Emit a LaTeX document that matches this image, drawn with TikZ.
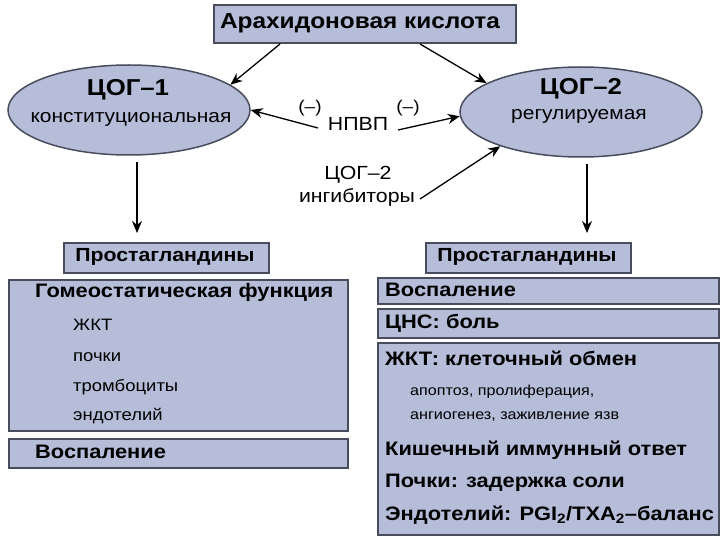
\documentclass[tikz,border=0pt]{standalone}
\usepackage{fontspec}
\setmainfont{Liberation Sans}[FakeStretch=1.12]
\usetikzlibrary{shapes.geometric,arrows.meta,calc}
\definecolor{boxfill}{RGB}{181,189,217}
\definecolor{boxline}{RGB}{72,76,92}
\tikzset{
  panel/.style={draw=boxline, line width=1.8pt, fill=boxfill, inner sep=0pt, anchor=north west},
  oval/.style={ellipse, draw=boxline, line width=1.5pt, fill=boxfill, inner sep=0pt, minimum width=242pt, minimum height=90pt},
  arr/.style={line width=1.3pt, -{Stealth[length=12pt,width=10pt]}},
  big/.style={font=\fontsize{19.5}{21}\selectfont\bfseries, anchor=west, inner sep=0pt},
  small/.style={font=\fontsize{16.5}{18}\selectfont, anchor=west, inner sep=0pt},
  rsmall/.style={font=\fontsize{14.4}{16}\selectfont, anchor=west, inner sep=0pt},
  mid/.style={font=\fontsize{19}{21}\selectfont, inner sep=0pt},
  head/.style={font=\fontsize{23}{25}\selectfont\bfseries, inner sep=0pt},
  sub/.style={font=\fontsize{18.7}{21}\selectfont, inner sep=0pt},
  minus/.style={font=\fontsize{17}{19}\selectfont, inner sep=0pt},
  pgt/.style={font=\fontsize{19}{21}\selectfont\bfseries, inner sep=0pt},
}
\begin{document}
\begin{tikzpicture}[x=1pt,y=-1pt]
\useasboundingbox (0,0) rectangle (720,540);
\fill[white] (0,0) rectangle (720,540);
% top
\node[panel, minimum width=302pt, minimum height=38pt] (top) at (213,4) {};
\node[font=\fontsize{21.8}{23}\selectfont\bfseries, inner sep=0pt] (toptxt) at (360,23) {Арахидоновая кислота};
% ellipses
\node[oval] (cog1) at (129,110) {};
\node[head] (c1a) at (128,90) {ЦОГ–1};
\node[sub] (c1b) at (131,119) {конституциональная};
\node[oval] (cog2) at (581,112) {};
\node[head] (c2a) at (581,89) {ЦОГ–2};
\node[sub] (c2b) at (579,116) {регулируемая};
% middle labels
\node[mid] (nsaid) at (358,124) {НПВП};
\node[minus] (m1) at (310,108) {(–)};
\node[minus] (m2) at (408,108) {(–)};
\node[mid] (inh1) at (358,175) {ЦОГ–2};
\node[mid] (inh2) at (357,198) {ингибиторы};
% connectors
\coordinate (t1) at (280,44);
\coordinate (t2) at (420,44);
\coordinate (n1) at (318,128);
\coordinate (n2) at (398,130);
\coordinate (i1) at (420,199);
\draw[arr] (t1) -- (cog1.14);
\draw[arr] (t2) -- (cog2.163);
\draw[arr] (n1) -- (cog1.0);
\draw[arr] (n2) -- (cog2.182);
\draw[arr] (i1) -- (cog2.203);
% prostaglandins
\node[panel, minimum width=205pt, minimum height=30pt] (pg1) at (63,242) {};
\node[pgt] (pg1t) at (165,257) {Простагландины};
\node[panel, minimum width=205pt, minimum height=30pt] (pg2) at (425,242) {};
\node[pgt] (pg2t) at (527,257) {Простагландины};
\coordinate (d1) at ($(cog1.south)+(8,6)$);
\coordinate (d2) at ($(cog2.south)+(6,6)$);
\draw[arr] (d1) -- (d1 |- pg1.north) [shorten >=9pt];
\draw[arr] (d2) -- (d2 |- pg2.north) [shorten >=9pt];
% left column
\node[panel, minimum width=339pt, minimum height=151pt] (lh) at (8,279) {};
\node[big] (l1) at (35,292) {Гомеостатическая функция};
\node[small] (l2) at (73,325) {ЖКТ};
\node[small] (l3) at (73,357) {почки};
\node[small] (l4) at (73,387) {тромбоциты};
\node[small] (l5) at (73,416) {эндотелий};
\node[panel, minimum width=339pt, minimum height=29pt] (li) at (8,438) {};
\node[big] (l6) at (35,452) {Воспаление};
% right column
\node[panel, minimum width=341pt, minimum height=26pt] (r1b) at (377,277) {};
\node[big] (r1) at (385,290) {Воспаление};
\node[panel, minimum width=341pt, minimum height=29pt] (r2b) at (377,308) {};
\node[big] (r2) at (385,323) {ЦНС: боль};
\node[panel, minimum width=341pt, minimum height=192pt] (r3b) at (377,342) {};
\node[big] (r3) at (385,358) {ЖКТ: клеточный обмен};
\node[rsmall] (r4) at (410,392) {апоптоз, пролиферация,};
\node[rsmall] (r5) at (410,417) {ангиогенез, заживление язв};
\node[big] (r6) at (385,450) {Кишечный иммунный ответ};
\node[big] (r7) at (385,483) {Почки: задержка соли};
\node[big] (r8) at (385,515) {Эндотелий: PGI\textsubscript{2}/TXA\textsubscript{2}–баланс};
\end{tikzpicture}
\end{document}
